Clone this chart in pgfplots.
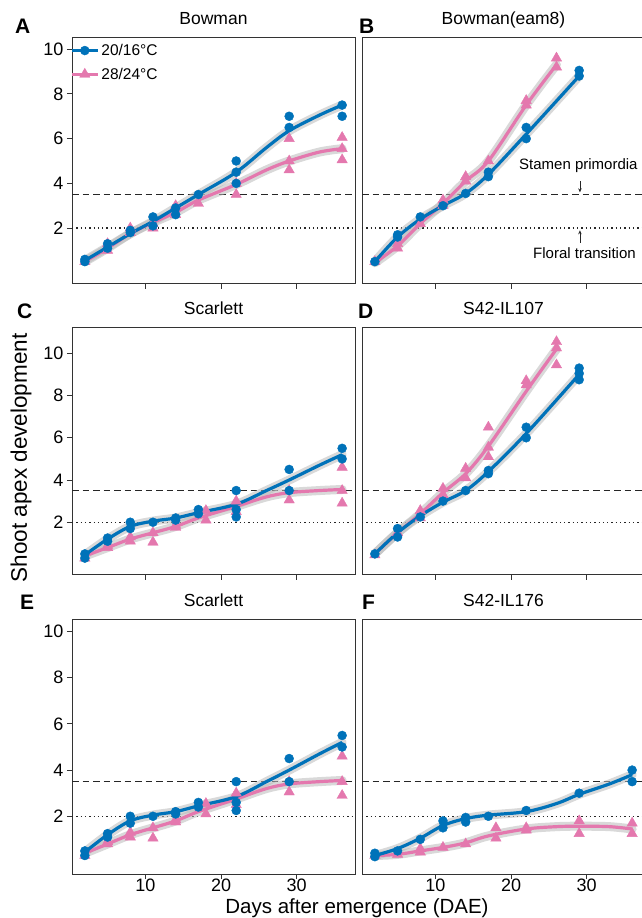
\documentclass[border=0pt]{standalone}
\usepackage{fontspec}
\setmainfont{Liberation Sans}
\usepackage{pgfplots}
\pgfplotsset{compat=1.18}
\usetikzlibrary{arrows.meta}
\definecolor{cblue}{RGB}{0,114,185}
\definecolor{cpink}{RGB}{228,120,174}
\definecolor{band}{RGB}{185,185,185}

\pgfplotsset{
 panel/.style={scale only axis, width=283pt, height=246pt,
   xmin=0.3, xmax=37.7, ymin=-0.5, ymax=10.5,
   axis line style={black!80, line width=1pt},
   xtick={10,20,30}, ytick={2,4,6,8,10},
   tick align=outside, xtick pos=left, ytick pos=left,
   major tick length=5pt,
   every tick/.style={black!80, line width=0.9pt},
   ticklabel style={font=\fontsize{18}{21}\selectfont},
   xticklabel style={inner sep=1pt, yshift=1pt},
   /pgf/number format/assume math mode=true,
   title style={at={(0.5,1)}, anchor=base, yshift=7pt, font=\fontsize{17.5}{21}\selectfont},
 },
 noy/.style={ytick=\empty},
 nox/.style={xticklabels={}},
 bandline/.style={band, opacity=0.55, line width=9pt, smooth, tension=0.55, no markers, line cap=round, forget plot},
 bfit/.style={cblue, line width=3.2pt, smooth, tension=0.55, no markers, forget plot},
 pfit/.style={cpink, line width=3.2pt, smooth, tension=0.55, no markers, forget plot},
 bpts/.style={only marks, mark=*, mark size=4.5pt, cblue, mark options={draw=cblue, fill=cblue, line width=0.4pt}, forget plot},
 ppts/.style={only marks, mark=triangle*, mark size=6pt, cpink, mark options={draw=cpink, fill=cpink, line width=0.4pt}, forget plot},
 dashref/.style={black!85, line width=1.3pt, dash pattern=on 6.5pt off 4pt, forget plot},
 dotref/.style={black!85, line width=1.4pt, dash pattern=on 1.3pt off 3pt, forget plot},
}

% ---------- data ----------
\pgfplotstableread{
d v
2 0.5
2 0.6
5 1.1
5 1.3
8 1.8
8 1.9
11 2.5
11 2.1
14 2.9
14 2.6
17 3.5
22 5.0
22 4.5
22 4.0
29 7.0
29 6.5
36 7.5
36 7.0
}\Abpts
\pgfplotstableread{
d v
2 0.5
5 1.3
5 1.0
8 2.0
8 1.8
11 2.0
11 2.2
14 3.0
14 2.6
17 3.1
22 4.0
22 3.5
29 6.0
29 5.0
29 4.6
36 6.05
36 5.55
36 5.05
}\Appts
\pgfplotstableread{
d v
2 0.55
5 1.15
8 1.75
11 2.3
14 2.9
17 3.5
22 4.5
26 5.6
29 6.35
33 7.05
36 7.5
}\Abfit
\pgfplotstableread{
d v
2 0.5
5 1.1
8 1.75
11 2.25
14 2.7
17 3.25
22 3.95
26 4.6
29 5.0
33 5.4
36 5.55
}\Apfit

\pgfplotstableread{
d v
2 0.5
5 1.7
5 1.6
8 2.5
11 3.0
14 3.55
17 4.3
17 4.5
22 6.5
22 6.0
29 9.05
29 8.8
}\Bbpts
\pgfplotstableread{
d v
2 0.5
5 1.1
5 1.3
8 2.2
11 3.25
11 3.0
14 4.3
14 4.1
17 5.0
22 7.7
22 7.5
26 9.6
26 9.2
}\Bppts
\pgfplotstableread{
d v
2 0.5
5 1.6
8 2.4
11 3.0
14 3.55
17 4.4
22 6.2
29 8.8
}\Bbfit
\pgfplotstableread{
d v
2 0.45
5 1.2
8 2.2
11 3.1
14 4.1
17 5.0
22 7.5
26 9.3
}\Bpfit

\pgfplotstableread{
d v
2 0.5
2 0.3
5 1.25
5 1.1
8 2.0
8 1.7
11 2.0
14 2.2
14 2.1
17 2.6
17 2.4
22 3.5
22 2.25
22 2.6
29 4.5
29 3.5
36 5.5
36 5.0
}\Cbpts
\pgfplotstableread{
d v
2 0.3
5 0.8
5 0.9
8 1.3
8 1.1
11 1.5
11 1.05
14 1.75
14 1.85
18 2.55
18 2.1
22 3.0
22 2.5
29 3.05
29 3.5
36 4.6
36 3.5
36 2.9
}\Cppts
\pgfplotstableread{
d v
2 0.45
5 1.2
8 1.8
11 2.05
14 2.2
17 2.45
22 2.85
26 3.5
29 4.0
33 4.7
36 5.2
}\Cbfit
\pgfplotstableread{
d v
2 0.4
5 0.8
8 1.2
11 1.5
14 1.8
17 2.2
22 2.75
26 3.2
29 3.4
33 3.5
36 3.55
}\Cpfit

\pgfplotstableread{
d v
2 0.5
5 1.7
5 1.3
8 2.25
11 3.0
14 3.5
17 4.45
17 4.3
22 6.5
22 6.0
29 9.3
29 9.05
29 8.75
}\Dbpts
\pgfplotstableread{
d v
2 0.45
5 1.5
8 2.55
8 2.2
11 3.6
11 3.3
14 4.55
14 4.1
17 6.5
17 5.55
17 5.1
22 8.7
22 8.5
26 10.55
26 10.25
26 9.45
}\Dppts
\pgfplotstableread{
d v
2 0.5
5 1.5
8 2.3
11 2.95
14 3.5
17 4.4
22 6.2
29 9.0
}\Dbfit
\pgfplotstableread{
d v
2 0.5
5 1.5
8 2.4
11 3.4
14 4.3
17 5.6
22 8.2
26 10.2
}\Dpfit

\pgfplotstableread{
d v
2 0.4
2 0.25
5 0.5
8 1.0
11 1.8
11 1.5
14 1.95
14 1.75
17 2.0
22 2.25
29 3.0
36 4.0
36 3.5
}\Fbpts
\pgfplotstableread{
d v
2 0.3
5 0.35
8 0.6
8 0.45
11 0.65
14 0.8
18 1.5
18 1.05
22 1.5
22 1.4
29 1.8
29 1.25
36 1.7
36 1.25
}\Fppts
\pgfplotstableread{
d v
2 0.3
5 0.6
8 1.05
11 1.6
14 1.9
17 2.05
22 2.2
26 2.55
29 2.95
33 3.4
36 3.8
}\Fbfit
\pgfplotstableread{
d v
2 0.3
5 0.35
8 0.5
11 0.65
14 0.85
17 1.15
22 1.45
26 1.55
29 1.57
33 1.55
36 1.45
}\Fpfit

\newcommand\panelcontent[4]{%
  \addplot[dotref] coordinates {(0.3,2) (37.7,2)};
  \addplot[dashref] coordinates {(0.3,3.5) (37.7,3.5)};
  \addplot[bandline] table[x=d,y=v] {#3};
  \addplot[bandline] table[x=d,y=v] {#4};
  \addplot[pfit] table[x=d,y=v] {#4};
  \addplot[bfit] table[x=d,y=v] {#3};
  \addplot[ppts] table[x=d,y=v] {#2};
  \addplot[bpts] table[x=d,y=v] {#1};
}

\begin{document}
\begin{tikzpicture}[x=1pt,y=1pt]
\path[use as bounding box] (0,0) rectangle (642,918);

% A
\begin{axis}[panel, nox, at={(72pt,634pt)}, anchor=south west, title={Bowman},
  legend style={at={(axis description cs:0,1)}, anchor=north west, draw=none, fill=none,
    font=\fontsize{15.5}{18}\selectfont, inner sep=1pt, row sep=7pt, xshift=-3pt, yshift=-3pt},
  legend cell align=left,
  legend image code/.code={\draw[mark repeat=2,mark phase=2,#1] plot coordinates {(0pt,0pt) (13pt,0pt) (26pt,0pt)};}]
\addlegendimage{cblue, line width=3.2pt, mark=*, mark size=4.5pt, mark options={line width=0.4pt}}
\addlegendentry{20/16°C}
\addlegendimage{cpink, line width=3.2pt, mark=triangle*, mark size=6pt, mark options={line width=0.4pt}}
\addlegendentry{28/24°C}
\panelcontent{\Abpts}{\Appts}{\Abfit}{\Apfit}
\end{axis}

% B
\begin{axis}[panel, nox, noy, at={(362pt,634pt)}, anchor=south west, title={Bowman(eam8)}]
\panelcontent{\Bbpts}{\Bppts}{\Bbfit}{\Bpfit}
\node[font=\fontsize{15}{18}\selectfont] at (axis cs:28.9,4.81) {Stamen primordia};
\draw[-{Stealth[length=4pt,width=3.5pt]}, line width=0.7pt, black!85] (axis cs:29.1,4.1) -- (axis cs:29.1,3.6);
\node[font=\fontsize{15}{18}\selectfont] at (axis cs:29.7,0.88) {Floral transition};
\draw[-{Stealth[length=4pt,width=3.5pt]}, line width=0.7pt, black!85] (axis cs:29.1,1.35) -- (axis cs:29.1,1.9);
\end{axis}

% C
\begin{axis}[panel, nox, height=247pt, ymax=11.2, at={(72pt,343pt)}, anchor=south west, title={Scarlett}]
\panelcontent{\Cbpts}{\Cppts}{\Cbfit}{\Cpfit}
\end{axis}

% D
\begin{axis}[panel, nox, noy, height=247pt, ymax=11.2, at={(362pt,343pt)}, anchor=south west, title={S42-IL107}]
\panelcontent{\Dbpts}{\Dppts}{\Dbfit}{\Dpfit}
\end{axis}

% E
\begin{axis}[panel, height=254pt, at={(72pt,44pt)}, anchor=south west, title={Scarlett}]
\panelcontent{\Cbpts}{\Cppts}{\Cbfit}{\Cpfit}
\end{axis}

% F
\begin{axis}[panel, noy, height=254pt, at={(362pt,44pt)}, anchor=south west, title={S42-IL176}]
\panelcontent{\Fbpts}{\Fppts}{\Fbfit}{\Fpfit}
\end{axis}

% panel letters
\begin{scope}[every node/.style={font=\fontsize{21}{24}\selectfont\bfseries, anchor=base west, inner sep=0pt}]
\node at (15,884) {A};
\node at (359,884) {B};
\node at (17,599) {C};
\node at (358,599) {D};
\node at (20,308) {E};
\node at (362,308) {F};
\end{scope}

% axis labels
\node[rotate=90, font=\fontsize{22.5}{26}\selectfont, inner sep=0pt] at (21,460) {Shoot apex development};
\node[anchor=base, font=\fontsize{20.5}{24}\selectfont, inner sep=0pt] at (357,4.5) {Days after emergence (DAE)};
\end{tikzpicture}
\end{document}
